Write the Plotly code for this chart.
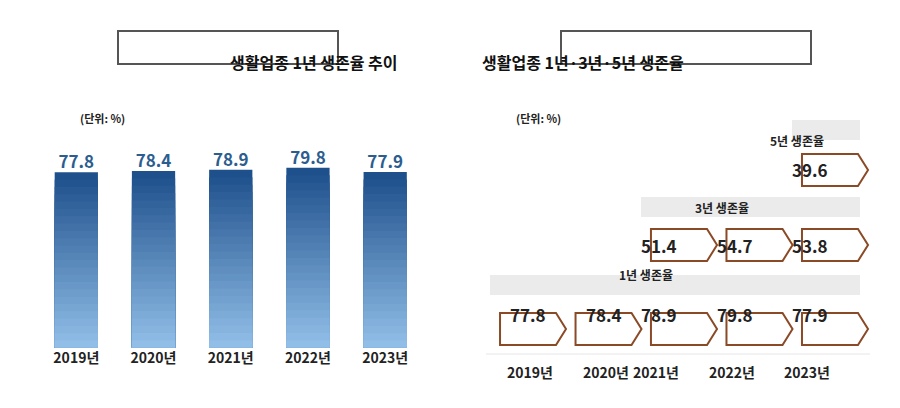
import plotly.graph_objects as go

years = ["2019년", "2020년", "2021년", "2022년", "2023년"]
surv1 = [77.8, 78.4, 78.9, 79.8, 77.9]
surv3 = [51.4, 54.7, 53.8]
surv5 = [39.6]
band_labels = ["1년 생존율", "3년 생존율", "5년 생존율"]

FONT = "Noto Sans CJK KR"
W, H = 900, 408
fig = go.Figure()


def px(x):
    return x / W


def py(y):
    return 1 - y / H


# left: gradient bars (overlaid, darker full bar underneath, lighter shorter bars on top)
N = 24
dark = (30, 80, 140)
light = (150, 195, 235)
for k in range(N, 0, -1):
    t = 1 - k / N
    c = tuple(int(dark[j] + (light[j] - dark[j]) * t) for j in range(3))
    fig.add_trace(go.Bar(x=years, y=[v * k / N for v in surv1], width=0.56,
                         marker=dict(color="rgb(%d,%d,%d)" % c, line_width=0),
                         hoverinfo="skip", showlegend=False))
fig.add_trace(go.Scatter(x=years, y=surv1, mode="text",
                         text=[f"<b>{v:.1f}</b>" for v in surv1],
                         textposition="top center",
                         textfont=dict(family=FONT, size=17, color="#2c5d8f"),
                         showlegend=False))

# right panel, positioned in pixels
col_x = [522 + 75.5 * i for i in range(5)]
row_y = [321, 237, 162]
series = [surv1, surv3, surv5]
band_y = [277, 199, 122]
shapes = []
ann = []
for r, vals in enumerate(series):
    start = 5 - len(vals)
    x0 = col_x[start] - 40
    shapes.append(dict(type="rect", xref="paper", yref="paper", x0=px(x0), x1=px(852),
                       y0=py(band_y[r] + 10), y1=py(band_y[r] - 10),
                       fillcolor="#ebebeb", line_width=0, layer="below"))
    ann.append(dict(xref="paper", yref="paper", x=px((x0 + 852) / 2), y=py(band_y[r]),
                    text=f"<b>{band_labels[r]}</b>", showarrow=False,
                    font=dict(family=FONT, size=12, color="#222")))
    for i, v in enumerate(vals):
        cx = col_x[start + i]
        cy = row_y[r]
        w, h, tip = 56, 32, 10
        l, rr = cx - w / 2 - 2, cx + w / 2 - 2
        pts = [(l, cy - h / 2), (rr, cy - h / 2), (rr + tip, cy), (rr, cy + h / 2), (l, cy + h / 2)]
        path = "M " + " L ".join(f"{px(a):.4f},{py(b):.4f}" for a, b in pts) + " Z"
        shapes.append(dict(type="path", xref="paper", yref="paper", path=path,
                           fillcolor="white", line=dict(color="#8b4a26", width=2)))
        ann.append(dict(xref="paper", yref="paper", x=px(cx - 2), y=py(cy), text=f"<b>{v:.1f}</b>",
                        showarrow=False, font=dict(family=FONT, size=17, color="#222")))
for i, yr in enumerate(years):
    ann.append(dict(xref="paper", yref="paper", x=px(col_x[i]), y=py(376), text=f"<b>{yr}</b>",
                    showarrow=False, font=dict(family=FONT, size=14, color="#222")))
shapes.append(dict(type="line", xref="paper", yref="paper", x0=px(478), x1=px(862),
                   y0=py(346), y1=py(346), line=dict(color="#e6e6e6", width=1)))

# titles
for x0, x1, txt in [(110, 330, "생활업종 1년 생존율 추이"), (553, 803, "생활업종 1년·3년·5년 생존율")]:
    shapes.append(dict(type="rect", xref="paper", yref="paper", x0=px(x0), x1=px(x1),
                       y0=py(56), y1=py(23), line=dict(color="#555", width=2), fillcolor="white"))
    ann.append(dict(xref="paper", yref="paper", x=px((x0 + x1) / 2), y=py(40), text=f"<b>{txt}</b>",
                    showarrow=False, font=dict(family=FONT, size=16, color="#111")))
for x, txt in [(70, "(단위: %)"), (530, "(단위: %)")]:
    ann.append(dict(xref="paper", yref="paper", x=px(x), y=py(100), text=f"<b>{txt}</b>",
                    showarrow=False, font=dict(family=FONT, size=11, color="#222")))

fig.update_layout(
    width=W, height=H, margin=dict(l=0, r=0, t=0, b=0),
    paper_bgcolor="white", plot_bgcolor="rgba(0,0,0,0)", barmode="overlay",
    xaxis=dict(domain=[0.033, 0.462], showgrid=False, zeroline=False,
               tickfont=dict(family=FONT, size=14, color="#222"), ticks="",
               tickprefix="<b>", ticksuffix="</b>"),
    yaxis=dict(domain=[0.167, 0.72], range=[0, 100], visible=False),
    shapes=shapes, annotations=ann,
)
fig.write_html("out.html")
